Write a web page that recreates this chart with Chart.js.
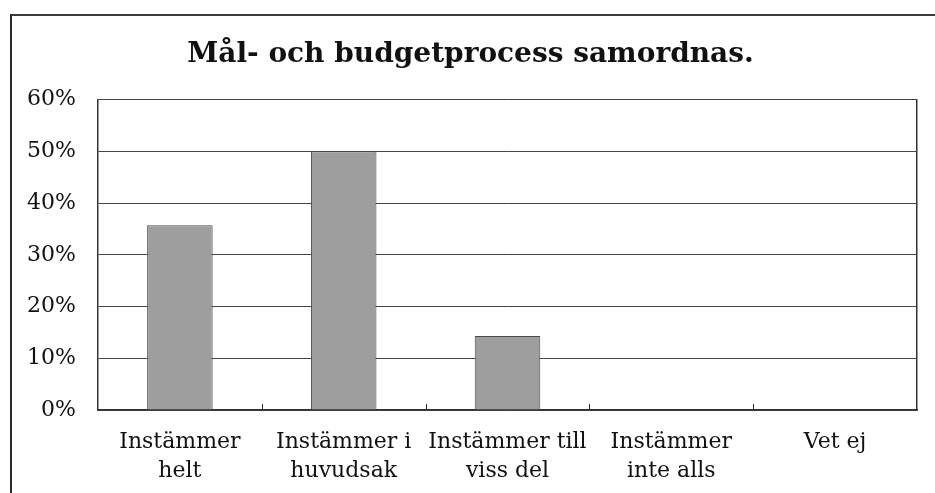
<!DOCTYPE html>
<html>
<head>
<meta charset="utf-8">
<script src="https://cdn.jsdelivr.net/npm/chart.js@4"></script>
<style>
  html, body { margin: 0; padding: 0; background: #fff; }
  #wrap { position: relative; width: 935px; height: 493px; }
  #frame {
    position: absolute; left: 10px; top: 14px; right: -5px; bottom: -5px;
    border-left: 2px solid #2a2a2a; border-top: 2px solid #3a3a3a;
    pointer-events: none;
  }
</style>
</head>
<body>
<div id="wrap">
  <canvas id="chart" width="935" height="493"></canvas>
  <div id="frame"></div>
</div>
<script>
// ---------- Data ----------
const titleText = "Mål- och budgetprocess samordnas.";
const categories = [
  ["Instämmer", "helt"],
  ["Instämmer i", "huvudsak"],
  ["Instämmer till", "viss del"],
  ["Instämmer", "inte alls"],
  ["Vet ej"]
];
const shares = [35.7, 50, 14.3, 0, 0];   // percent
const yTicks = [0, 10, 20, 30, 40, 50, 60];

const serif = "'DejaVu Serif', 'Liberation Serif', serif";

// short upward tick marks between categories on the x axis
const innerTicks = {
  id: "innerTicks",
  afterDatasetsDraw(chart) {
    const x = chart.scales.x, ctx = chart.ctx, bottom = chart.chartArea.bottom;
    ctx.save();
    ctx.strokeStyle = "#333";
    ctx.lineWidth = 1;
    for (let i = 1; i < categories.length; i++) {
      const px = Math.round((x.getPixelForValue(i - 1) + x.getPixelForValue(i)) / 2) + 0.5;
      ctx.beginPath();
      ctx.moveTo(px, bottom);
      ctx.lineTo(px, bottom - 6);
      ctx.stroke();
    }
    ctx.restore();
  }
};

new Chart(document.getElementById("chart"), {
  type: "bar",
  data: {
    labels: categories,
    datasets: [{
      data: shares,
      backgroundColor: "#9e9e9e",
      borderColor: "#4a4a4a",
      borderWidth: 1,
      barPercentage: 0.4,
      categoryPercentage: 1
    }]
  },
  options: {
    responsive: false,
    animation: false,
    layout: { padding: { left: 24, right: 18, top: 0, bottom: 0 } },
    plugins: {
      legend: { display: false },
      tooltip: { enabled: false },
      title: {
        display: true,
        text: titleText,
        color: "#111",
        font: { family: serif, size: 28, weight: "bold" },
        padding: { top: 38, bottom: 28 }
      }
    },
    scales: {
      x: {
        grid: { display: false },
        border: { display: true, color: "#333", width: 1.5 },
        ticks: {
          color: "#111",
          font: { family: serif, size: 22, lineHeight: 1.3 },
          padding: 10,
          maxRotation: 0,
          autoSkip: false
        },
        afterFit: s => { s.height = 83; }
      },
      y: {
        min: 0,
        max: 60,
        afterBuildTicks: s => { s.ticks = yTicks.map(v => ({ value: v })); },
        grid: { color: "#444", lineWidth: 1, drawTicks: false },
        border: { display: true, color: "#333", width: 1.5 },
        ticks: {
          color: "#111",
          font: { family: serif, size: 22 },
          padding: 22,
          callback: v => v + "%"
        },
        afterFit: s => { s.width = 74; }
      },
      yRight: {
        position: "right",
        min: 0,
        max: 60,
        grid: { drawOnChartArea: false, drawTicks: false },
        border: { display: true, color: "#333", width: 1.5 },
        ticks: { display: false },
        afterFit: s => { s.width = 0; }
      }
    }
  },
  plugins: [innerTicks]
});
</script>
</body>
</html>
